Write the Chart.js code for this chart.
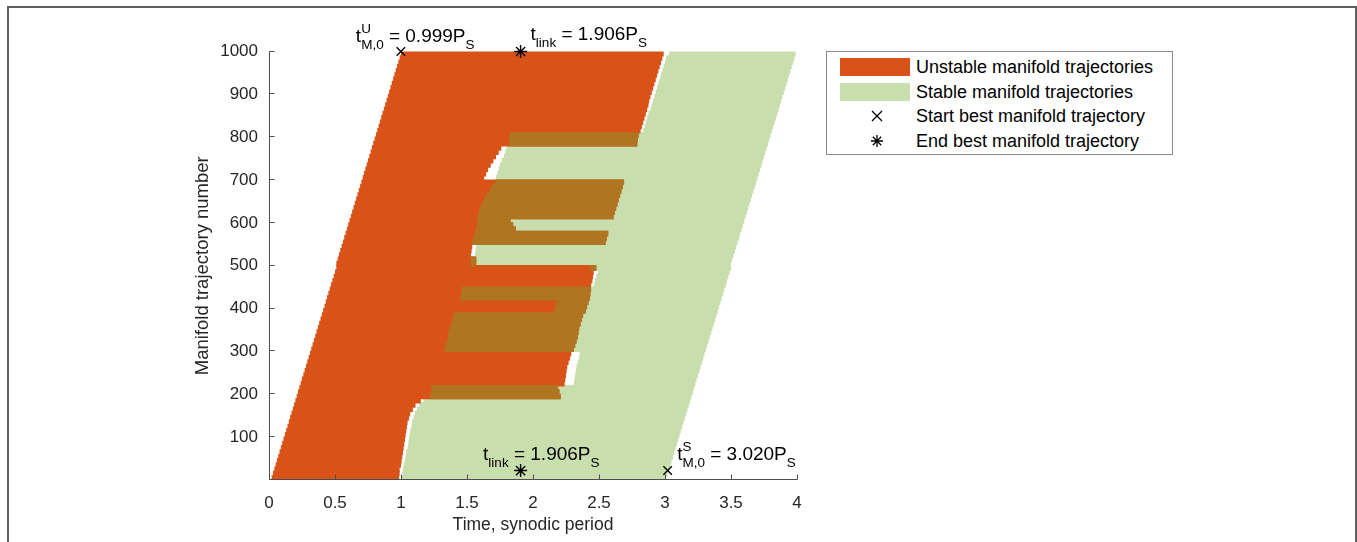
<!DOCTYPE html>
<html>
<head>
<meta charset="utf-8">
<script src="https://cdn.jsdelivr.net/npm/chart.js@4.4.1/dist/chart.umd.min.js"></script>
<style>
  body { margin: 0; background: #fff; font-family: "Liberation Sans", Arial, sans-serif; }
  #wrap { position: relative; width: 1357px; height: 542px; overflow: hidden; background: #fff; }
  #frame { position: absolute; left: 7px; top: 6px; width: 1350px; height: 600px;
           border: 2px solid #5e5e5e; box-sizing: border-box; }
  #chart { position: absolute; left: 0; top: 0; }
  #legend { position: absolute; left: 826px; top: 51px; width: 347px; height: 104px;
            border: 1px solid #8a8a8a; box-sizing: border-box; background: #fff;
            font-size: 18px; color: #000; }
  .row { position: absolute; left: 0; height: 24px; width: 100%; }
  .row span { position: absolute; left: 89px; top: 0; line-height: 24px; white-space: nowrap; }
  .sw { position: absolute; left: 13px; top: 3px; width: 70px; height: 18px; }
  .row svg { position: absolute; left: 44px; top: 6px; }
</style>
</head>
<body>
<div id="wrap">
  <div id="frame"></div>
  <canvas id="chart" width="1357" height="542"></canvas>
  <div id="legend">
    <div class="row" style="top:3px"><div class="sw" style="background:#D95319"></div><span>Unstable manifold trajectories</span></div>
    <div class="row" style="top:27.5px"><div class="sw" style="background:#C8DEAD"></div><span>Stable manifold trajectories</span></div>
    <div class="row" style="top:52px">
      <svg width="12" height="12"><path d="M1 1L11 11M11 1L1 11" stroke="#000" stroke-width="1.3"/></svg>
      <span>Start best manifold trajectory</span></div>
    <div class="row" style="top:76.5px">
      <svg width="12" height="12"><path d="M6 0V12M0 6H12M1.8 1.8L10.2 10.2M10.2 1.8L1.8 10.2" stroke="#000" stroke-width="1.3"/></svg>
      <span>End best manifold trajectory</span></div>
  </div>
</div>
<script>
// Номера траекторий (центры групп по 10 траекторий)
const trajNo = [5, 15, 25, 35, 45, 55, 65, 75, 85, 95,
  105, 115, 125, 135, 145, 155, 165, 175, 185, 195,
  205, 215, 225, 235, 245, 255, 265, 275, 285, 295,
  305, 315, 325, 335, 345, 355, 365, 375, 385, 395,
  405, 415, 425, 435, 445, 455, 465, 475, 485, 495,
  505, 515, 525, 535, 545, 555, 565, 575, 585, 595,
  605, 615, 625, 635, 645, 655, 665, 675, 685, 695,
  705, 715, 725, 735, 745, 755, 765, 775, 785, 795,
  805, 815, 825, 835, 845, 855, 865, 875, 885, 895,
  905, 915, 925, 935, 945, 955, 965, 975, 985, 995];

// Неустойчивое многообразие: начало и конец (синодические периоды)
const unstableStart = [0.02, 0.03, 0.04, 0.05, 0.06, 0.07, 0.08, 0.09, 0.10, 0.11,
  0.12, 0.13, 0.14, 0.15, 0.16, 0.17, 0.18, 0.19, 0.20, 0.21,
  0.22, 0.23, 0.24, 0.25, 0.26, 0.27, 0.28, 0.29, 0.30, 0.31,
  0.32, 0.33, 0.34, 0.35, 0.36, 0.37, 0.38, 0.39, 0.40, 0.41,
  0.42, 0.43, 0.44, 0.45, 0.46, 0.47, 0.48, 0.49, 0.50, 0.51,
  0.51, 0.52, 0.53, 0.54, 0.55, 0.56, 0.57, 0.58, 0.59, 0.60,
  0.61, 0.62, 0.63, 0.64, 0.65, 0.66, 0.67, 0.68, 0.69, 0.70,
  0.71, 0.72, 0.73, 0.74, 0.75, 0.76, 0.77, 0.78, 0.79, 0.80,
  0.81, 0.82, 0.83, 0.84, 0.85, 0.86, 0.87, 0.88, 0.89, 0.90,
  0.91, 0.92, 0.93, 0.94, 0.95, 0.96, 0.97, 0.98, 0.99, 1.00];
const unstableEnd = [0.985, 0.99, 0.99, 1.00, 1.005, 1.01, 1.015, 1.02, 1.025, 1.03,
  1.035, 1.04, 1.045, 1.05, 1.06, 1.07, 1.09, 1.11, 1.15, 2.21,
  2.20, 2.19, 2.24, 2.245, 2.25, 2.255, 2.26, 2.27, 2.28, 2.29,
  2.31, 2.32, 2.33, 2.34, 2.345, 2.35, 2.36, 2.37, 2.38, 2.40,
  2.41, 2.42, 2.43, 2.435, 2.44, 2.44, 2.45, 2.455, 2.46, 2.48,
  1.57, 1.57, 1.53, 1.535, 1.54, 2.55, 2.56, 2.57, 1.87, 1.85,
  1.83, 2.61, 2.62, 2.63, 2.64, 2.65, 2.66, 2.67, 2.68, 2.69,
  1.63, 1.645, 1.66, 1.68, 1.70, 1.72, 1.74, 1.76, 2.79, 2.795,
  2.80, 2.815, 2.825, 2.835, 2.845, 2.855, 2.865, 2.875, 2.88, 2.89,
  2.90, 2.91, 2.92, 2.93, 2.94, 2.95, 2.96, 2.97, 2.98, 2.99];

// Устойчивое многообразие: начало и конец
const stableStart = [1.00, 1.01, 1.015, 1.02, 1.03, 1.035, 1.04, 1.05, 1.055, 1.06,
  1.065, 1.07, 1.08, 1.085, 1.095, 1.105, 1.12, 1.14, 1.17, 1.22,
  1.23, 1.23, 2.31, 2.315, 2.32, 2.325, 2.33, 2.34, 2.35, 2.355,
  1.33, 1.34, 1.35, 1.355, 1.36, 1.37, 1.38, 1.39, 1.40, 2.16,
  2.17, 2.18, 1.45, 1.455, 1.46, 2.46, 2.47, 2.48, 2.49, 2.43,
  1.53, 1.53, 1.56, 1.565, 1.57, 1.54, 1.55, 1.56, 1.57, 1.575,
  1.58, 1.58, 1.59, 1.60, 1.615, 1.63, 1.65, 1.67, 1.69, 1.71,
  1.72, 1.73, 1.74, 1.75, 1.765, 1.78, 1.79, 1.80, 1.82, 1.82,
  1.82, 2.835, 2.845, 2.855, 2.865, 2.875, 2.89, 2.90, 2.91, 2.92,
  2.93, 2.94, 2.95, 2.96, 2.97, 2.98, 2.99, 3.00, 3.01, 3.03];
const stableEnd = [3.01, 3.02, 3.03, 3.04, 3.05, 3.06, 3.07, 3.08, 3.09, 3.10,
  3.11, 3.12, 3.13, 3.14, 3.15, 3.16, 3.17, 3.18, 3.19, 3.20,
  3.21, 3.22, 3.23, 3.24, 3.25, 3.26, 3.27, 3.28, 3.29, 3.30,
  3.31, 3.32, 3.33, 3.34, 3.35, 3.36, 3.37, 3.38, 3.39, 3.40,
  3.41, 3.42, 3.43, 3.44, 3.45, 3.46, 3.47, 3.48, 3.49, 3.50,
  3.50, 3.51, 3.52, 3.53, 3.54, 3.55, 3.56, 3.57, 3.58, 3.59,
  3.60, 3.61, 3.62, 3.63, 3.64, 3.65, 3.66, 3.67, 3.68, 3.69,
  3.70, 3.71, 3.72, 3.73, 3.74, 3.75, 3.76, 3.77, 3.78, 3.79,
  3.80, 3.81, 3.82, 3.83, 3.84, 3.85, 3.86, 3.87, 3.88, 3.89,
  3.90, 3.91, 3.92, 3.93, 3.94, 3.95, 3.96, 3.97, 3.98, 3.99];

// Лучшая траектория: начало (×) и конец (*)
const startBestTime = [0.999, 3.020];
const startBestTraj = [1000, 22];
const endBestTime = [1.906, 1.906];
const endBestTraj = [1000, 22];

const xTicks = [0, 0.5, 1, 1.5, 2, 2.5, 3, 3.5, 4];
const yTicks = [100, 200, 300, 400, 500, 600, 700, 800, 900, 1000];

const FONT = "'Liberation Sans', Arial, sans-serif";
const AXIS_COLOR = "#4d4d4d";

// Полосы для каждой группы траекторий
const unstableBars = trajNo.map((n, i) => ({ x: [unstableStart[i], unstableEnd[i]], y: n }));
const stableBars = trajNo.map((n, i) => ({ x: [stableStart[i], stableEnd[i]], y: n }));
// Пересечение двух многообразий (смешанный цвет)
const overlapBars = trajNo
  .map((n, i) => {
    const a = Math.max(unstableStart[i], stableStart[i]);
    const b = Math.min(unstableEnd[i], stableEnd[i]);
    return a < b ? { x: [a, b], y: n } : null;
  })
  .filter(Boolean);

// Полосы чуть толще шага, чтобы не было светлых швов
const barCommon = {
  type: "bar",
  indexAxis: "y",
  grouped: false,
  barThickness: 5.6,
  borderWidth: 0,
  inflateAmount: 0,
};

// Подпись с индексами: части [текст, тип]
function drawRich(ctx, x, y, parts) {
  ctx.textBaseline = "alphabetic";
  ctx.textAlign = "left";
  ctx.fillStyle = "#000";
  for (const [t, kind] of parts) {
    if (kind === "n") {
      ctx.font = `19px ${FONT}`;
      ctx.fillText(t, x, y);
      x += ctx.measureText(t).width;
    } else if (kind === "sub") {
      ctx.font = `13.5px ${FONT}`;
      ctx.fillText(t, x, y + 7);
      x += ctx.measureText(t).width;
    } else {
      ctx.font = `13.5px ${FONT}`;
      ctx.fillText(t[0], x, y - 9);
      ctx.fillText(t[1], x, y + 7);
      x += Math.max(ctx.measureText(t[0]).width, ctx.measureText(t[1]).width);
    }
  }
}

const axesPlugin = {
  id: "matlabAxes",
  afterDatasetsDraw(chart) {
    const { ctx, chartArea: a, scales: { x, y } } = chart;
    const bx = Math.round(a.left) + 0.5;
    const by = Math.round(a.bottom) - 0.5;
    ctx.save();
    ctx.strokeStyle = AXIS_COLOR;
    ctx.lineWidth = 1;
    ctx.beginPath();
    ctx.moveTo(bx, a.top);
    ctx.lineTo(bx, by);
    ctx.lineTo(a.right + 0.5, by);
    xTicks.forEach((v) => {
      const px = Math.round(x.getPixelForValue(v)) + 0.5;
      ctx.moveTo(px, by);
      ctx.lineTo(px, by - 5);
    });
    yTicks.forEach((v) => {
      const py = Math.round(y.getPixelForValue(v)) - 0.5;
      ctx.moveTo(bx, py);
      ctx.lineTo(bx + 5, py);
    });
    ctx.stroke();
    ctx.restore();
  },
  afterDraw(chart) {
    const { ctx, scales: { x, y } } = chart;
    const px = (t) => x.getPixelForValue(t);
    const py = (n) => y.getPixelForValue(n);
    ctx.save();
    drawRich(ctx, px(startBestTime[0]) - 45, py(startBestTraj[0]) - 9.5,
      [["t", "n"], [["U", "M,0"], "ss"], [" = 0.999P", "n"], ["S", "sub"]]);
    drawRich(ctx, px(endBestTime[0]) + 10, py(endBestTraj[0]) - 11.5,
      [["t", "n"], ["link", "sub"], [" = 1.906P", "n"], ["S", "sub"]]);
    drawRich(ctx, px(endBestTime[1]) - 37.5, py(endBestTraj[1]) - 10.5,
      [["t", "n"], ["link", "sub"], [" = 1.906P", "n"], ["S", "sub"]]);
    drawRich(ctx, px(startBestTime[1]) + 9.5, py(startBestTraj[1]) - 10.5,
      [["t", "n"], [["S", "M,0"], "ss"], [" = 3.020P", "n"], ["S", "sub"]]);
    ctx.restore();
  },
};

const chart = new Chart(document.getElementById("chart"), {
  type: "bar",
  data: {
    datasets: [
      {
        type: "scatter",
        label: "Start best manifold trajectory",
        data: startBestTime.map((t, i) => ({ x: t, y: startBestTraj[i] })),
        pointStyle: "crossRot",
        pointRadius: 6,
        borderColor: "#000",
        borderWidth: 1.4,
        clip: false,
      },
      {
        type: "scatter",
        label: "End best manifold trajectory",
        data: endBestTime.map((t, i) => ({ x: t, y: endBestTraj[i] })),
        pointStyle: "star",
        pointRadius: 6.5,
        borderColor: "#000",
        borderWidth: 1.4,
        clip: false,
      },
      { ...barCommon, label: "overlap", data: overlapBars, backgroundColor: "#AF7521" },
      { ...barCommon, label: "Unstable manifold trajectories", data: unstableBars, backgroundColor: "#D95319" },
      { ...barCommon, label: "Stable manifold trajectories", data: stableBars, backgroundColor: "#C8DEAD" },
    ],
  },
  options: {
    responsive: false,
    animation: false,
    events: [],
    layout: { padding: { left: 0, top: 51.5, right: 560, bottom: 0 } },
    plugins: { legend: { display: false }, tooltip: { enabled: false } },
    scales: {
      x: {
        type: "linear",
        offset: false,
        min: 0,
        max: 4,
        afterBuildTicks: (s) => { s.ticks = xTicks.map((v) => ({ value: v })); },
        afterFit: (s) => { s.height = 62; },
        grid: { display: false, drawTicks: false, offset: false },
        border: { display: false },
        ticks: {
          padding: 13, color: "#262626", font: { family: FONT, size: 17 }, maxRotation: 0,
          callback: (v) => String(v),
        },
        title: {
          display: true,
          text: "Time, synodic period",
          color: "#262626",
          font: { family: FONT, size: 17.5 },
          padding: { top: 0, bottom: 6 },
        },
      },
      y: {
        type: "linear",
        offset: false,
        min: 0,
        max: 1000,
        afterBuildTicks: (s) => { s.ticks = yTicks.map((v) => ({ value: v })); },
        afterFit: (s) => { s.width = 269; },
        grid: { display: false, drawTicks: false, offset: false },
        border: { display: false },
        ticks: {
          padding: 11, color: "#262626", font: { family: FONT, size: 17 },
          callback: (v) => String(v),
        },
        title: {
          display: true,
          text: "Manifold trajectory number",
          color: "#262626",
          font: { family: FONT, size: 18.5 },
          padding: { top: 192, bottom: 0 },
        },
      },
    },
  },
  plugins: [axesPlugin],
});
</script>
</body>
</html>
